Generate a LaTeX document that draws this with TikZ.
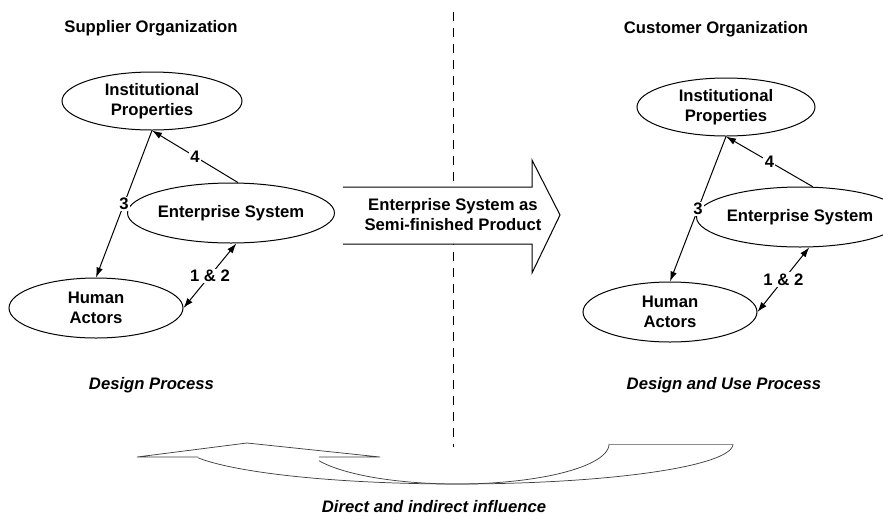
\documentclass[tikz,border=0pt]{standalone}
\usepackage{fontspec}
\setmainfont{Liberation Sans}
\usetikzlibrary{shapes.geometric,arrows.meta}
\newcommand{\lblfont}{\fontsize{12.5}{15}\selectfont\bfseries}
\newcommand{\itlfont}{\fontsize{12.5}{15}\selectfont\bfseries\itshape}
\tikzset{
  ell/.style={draw, ellipse, line width=0.75pt, inner sep=0pt, align=center, font=\lblfont},
  conn/.style={line width=0.75pt, -{Latex[length=7.5pt,width=5pt]}},
  bconn/.style={line width=0.75pt, {Latex[length=7.5pt,width=5pt]}-{Latex[length=7.5pt,width=5pt]}},
  lbl/.style={fill=white, inner sep=1pt, font=\lblfont},
  title/.style={font=\lblfont},
  ititle/.style={font=\itlfont},
  bigarrow/.style={line width=0.75pt},
  curvearrow/.style={line width=0.55pt, black!75},
}
\begin{document}
\begin{tikzpicture}[x=0.75pt, y=-0.75pt]
\useasboundingbox (0,0) rectangle (883,526);
\fill[white] (0,0) rectangle (883,526);

% dashed divider
\coordinate (dtop) at (453,12);
\coordinate (dbot) at (453,447);
\draw[line width=0.75pt, dash pattern=on 6.75pt off 5.25pt] (dtop) -- (dbot);

% big arrow
\fill[white] (343,187) -- (532,187) -- (532,160) -- (560,215) -- (532,273) -- (532,244) -- (343,244) -- cycle;
\draw[bigarrow] (343,187) -- (532,187) -- (532,160) -- (560,215) -- (532,273) -- (532,244) -- (343,244);
\node[font=\lblfont, align=center] (semi) at (453,215) {Enterprise System as\\Semi-finished Product};

% titles
\node[title] (sup) at (151,28) {Supplier Organization};
\node[title] (cus) at (716,29) {Customer Organization};
\node[ititle] (dp) at (151.5,385) {Design Process};
\node[ititle] (dup) at (724,385) {Design and Use Process};
\node[ititle] (dii) at (434,507) {Direct and indirect influence};

% left diagram
\node[ell, minimum width=135pt, minimum height=43.5pt] (ipL) at (152,101) {Institutional\\Properties};
\node[ell, minimum width=133.5pt, minimum height=45pt] (esL) at (231,213) {Enterprise System};
\node[ell, minimum width=130.5pt, minimum height=45pt] (haL) at (96,308) {Human\\Actors};
\draw[conn] (ipL.south) -- node[lbl] {3} (haL.north);
\draw[conn] (esL.77) -- node[lbl] {4} (ipL.south);
\draw[bconn] (haL.east) -- node[lbl] {1 \& 2} (esL.-80);

% right diagram
\node[ell, minimum width=133.5pt, minimum height=43.5pt] (ipR) at (726,107) {Institutional\\Properties};
\node[ell, minimum width=127.5pt, minimum height=45pt] (esR) at (800,217) {Enterprise System};
\node[ell, minimum width=130.5pt, minimum height=45pt] (haR) at (670,312) {Human\\Actors};
\draw[conn] (ipR.south) -- node[lbl] {3} (haR.north);
\draw[conn] (esR.67) -- node[lbl] {4} (ipR.south);
\draw[bconn] (haR.east) -- node[lbl] {1 \& 2} (esR.-73);

% curved influence arrow
\draw[curvearrow] (198,457) -- (137,457) -- (247,443) -- (380,457) -- (319,457);
\draw[curvearrow] plot[domain=159.8:0, samples=80] ({457+276*cos(\x)}, {444+40*sin(\x)});
\draw[curvearrow] plot[domain=155.2:0, samples=80] ({457+152*cos(\x)}, {444+40*sin(\x)});
\draw[curvearrow, black!45] (609,444) -- (733,444);
\end{tikzpicture}
\end{document}
